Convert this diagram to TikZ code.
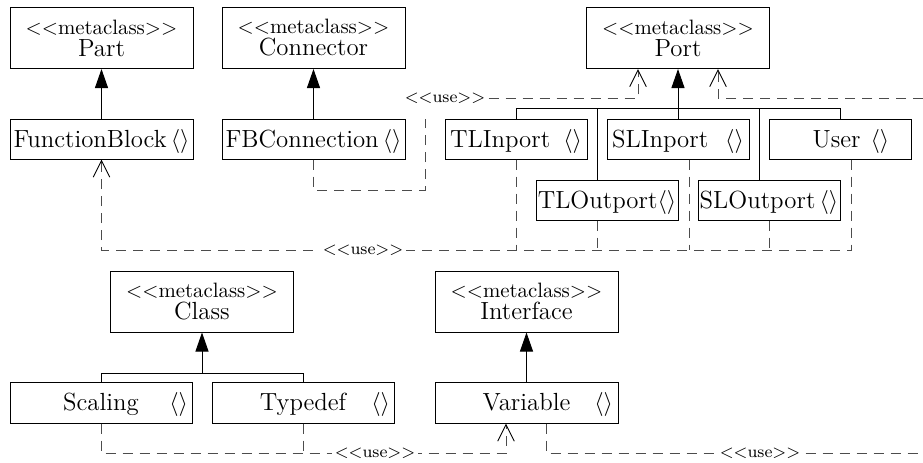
\documentclass[tikz,border=0pt]{standalone}
\usetikzlibrary{arrows.meta}
\newcommand\stereo{{\fontsize{10.4pt}{11pt}\selectfont <{}<metaclass>{}>}}
\newcommand\ang{$\langle\rangle$}
\newcommand\usetxt{<{}<use>{}>}
\begin{document}
\begin{tikzpicture}[x=0.5pt,y=-0.5pt,line width=0.5pt,
  meta/.style={draw, inner sep=0pt, minimum width=91.5pt, minimum height=30.5pt,
    align=center, font=\fontsize{12.4pt}{11pt}\selectfont},
  cls/.style={draw, inner sep=0pt, minimum width=#1*0.5pt, minimum height=20pt,
    font=\fontsize{12.4pt}{14pt}\selectfont, text height=8.6pt, text depth=0.4pt},
  angr/.style={inner sep=0pt, anchor=east, font=\fontsize{12.4pt}{14pt}\selectfont,
    text height=8.6pt, text depth=0.4pt},
  inh/.style={-{Triangle[length=9.5pt,width=6.5pt]}},
  use/.style={draw=black!70, dash pattern=on 5pt off 3.5pt},
  openarr/.style={-{Straight Barb[length=8.3pt,width=8.3pt,color=black]}},
  ulab/.style={fill=white, inner sep=1.5pt, font=\fontsize{8.4pt}{10pt}\selectfont}]
\useasboundingbox (0,0) rectangle (923,462);

% metaclasses
\node[meta] (part) at (101.5,38) {\stereo\\Part};
\node[meta] (connector) at (313.5,38) {\stereo\\Connector};
\node[meta] (port) at (678,38) {\stereo\\Port};
\node[meta] (class) at (202,301.5) {\stereo\\Class};
\node[meta] (interface) at (526.5,301.5) {\stereo\\Interface};

% classes
\node[cls=183] (fb) at (101.5,139) {FunctionBlock\,\ang};
\node[cls=183] (fbc) at (313.5,139) {FBConnection\,\ang};
\node[cls=142] (tli) at (516,139) {TLInport\hspace{6.5pt}\ang};
\node[cls=142] (sli) at (678,139) {SLInport\hspace{8.5pt}\ang};
\node[cls=142] (user) at (840,139) {\hspace*{11pt}User\hspace{5pt}\ang};
\node[cls=142] (tlo) at (607,200) {TLOutport\ang};
\node[cls=142] (slo) at (769,200) {SLOutport\,\ang};
\node[cls=182, minimum height=20.5pt] (scaling) at (101,402.5) {Scaling};
\node[angr] (scalingA) at ([xshift=-2pt]scaling.east) {\ang};
\node[cls=182, minimum height=20.5pt] (typedef) at (303,402.5) {Typedef};
\node[angr] (typedefA) at ([xshift=-2pt]typedef.east) {\ang};
\node[cls=183, minimum height=20.5pt] (variable) at (526.5,402.5) {Variable};
\node[angr] (variableA) at ([xshift=-2.5pt]variable.east) {\ang};

% generalisations
\draw[inh] (fb.north) -- (part.south);
\draw[inh] (fbc.north) -- (connector.south);
\draw[inh] (sli.north) -- (port.south);
\coordinate (pb) at (678,108);
\draw (tli.north) |- (user.north |- pb) -- (user.north);
\draw ([xshift=-5pt]tlo.north) -- ([xshift=-5pt]tlo.north |- pb);
\draw ([xshift=-5pt]slo.north) -- ([xshift=-5pt]slo.north |- pb);
\coordinate (cb) at (202,373);
\draw (scaling.north) |- (typedef.north |- cb) -- (typedef.north);
\draw[inh] (class.south |- cb) -- (class.south);
\draw[inh] (variable.north) -- (interface.south);

% use dependencies
\coordinate (c1) at (425,190);
\coordinate (c2) at (425,119);
\draw[use] (fbc.south) |- (c1) -- (c2);
\node[ulab] (use1) at (445,98) {\usetxt};
\draw[use, openarr] (use1.east) -| ([xshift=-20pt]port.south);
\coordinate (r1) at (923,98);
\draw[use, openarr] (r1) -| ([xshift=20pt]port.south);

\coordinate (b1) at (851,250);
\draw[use, openarr] ([xshift=5.5pt]user.south) |- (fb.south |- b1) -- (fb.south);
\draw[use] (tli.south) -- (tli.south |- b1);
\draw[use] ([xshift=-5pt]tlo.south) -- ([xshift=-5pt]tlo.south |- b1);
\draw[use] ([xshift=5.5pt]sli.south) -- ([xshift=5.5pt]sli.south |- b1);
\draw[use] (slo.south) -- (slo.south |- b1);
\node[ulab] (use2) at (363,250) {\usetxt};

\coordinate (b2) at (0,453);
\draw[use, openarr] (scaling.south) |- ([xshift=-10.25pt]variable.south |- b2) -- ([xshift=-10.25pt]variable.south);
\draw[use] (typedef.south) -- (typedef.south |- b2);
\node[ulab] (use3) at (375,453) {\usetxt};
\coordinate (r2) at (923,453);
\draw[use] ([xshift=9.75pt]variable.south) |- (r2);
\node[ulab] (use4) at (760,453) {\usetxt};
\end{tikzpicture}
\end{document}
